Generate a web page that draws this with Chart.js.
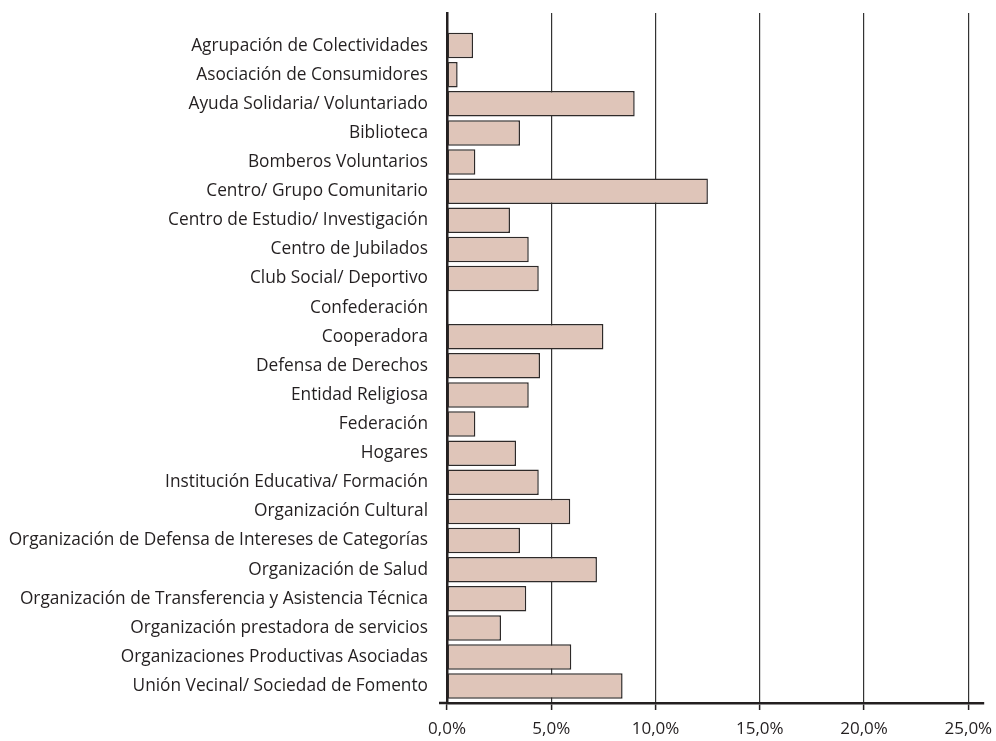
<!DOCTYPE html>
<html>
<head>
<meta charset="utf-8">
<script src="https://cdn.jsdelivr.net/npm/chart.js@4"></script>
<style>
  html, body { margin: 0; padding: 0; background: #fff; }
  #wrap { width: 996px; height: 741px; }
</style>
</head>
<body>
<div id="wrap"><canvas id="barChart" width="996" height="741"></canvas></div>
<script>
// categories, top to bottom
const categories = [
  'Agrupación de Colectividades',
  'Asociación de Consumidores',
  'Ayuda Solidaria/ Voluntariado',
  'Biblioteca',
  'Bomberos Voluntarios',
  'Centro/ Grupo Comunitario',
  'Centro de Estudio/ Investigación',
  'Centro de Jubilados',
  'Club Social/ Deportivo',
  'Confederación',
  'Cooperadora',
  'Defensa de Derechos',
  'Entidad Religiosa',
  'Federación',
  'Hogares',
  'Institución Educativa/ Formación',
  'Organización Cultural',
  'Organización de Defensa de Intereses de Categorías',
  'Organización de Salud',
  'Organización de Transferencia y Asistencia Técnica',
  'Organización prestadora de servicios',
  'Organizaciones Productivas Asociadas',
  'Unión Vecinal/ Sociedad de Fomento',
];
// percent values
const percents = [
  1.25, 0.51, 9.0, 3.5, 1.36, 12.51, 3.02, 3.92, 4.4, 0,
  7.5, 4.46, 3.92, 1.36, 3.31, 4.4, 5.91, 3.5, 7.19, 3.8,
  2.59, 5.96, 8.42,
];
const xTicks = [0, 5, 10, 15, 20, 25];

const fontFamily = '"Open Sans", sans-serif';
const ink = '#231f20';

// bars on a linear y axis so the plot can run a little above the first bar
const points = categories.map((c, i) => ({ x: percents[i], y: i }));

// little extension of the baseline to the left of the y axis
const baselinePlugin = {
  id: 'baseline',
  afterDraw(chart) {
    const ctx = chart.ctx;
    const area = chart.chartArea;
    ctx.save();
    ctx.strokeStyle = ink;
    ctx.lineWidth = 2.5;
    ctx.beginPath();
    ctx.moveTo(area.left - 8, area.bottom);
    ctx.lineTo(area.left, area.bottom);
    ctx.stroke();
    ctx.restore();
  },
};

new Chart(document.getElementById('barChart'), {
  type: 'bar',
  data: {
    datasets: [
      {
        data: points,
        backgroundColor: '#dfc5b9',
        borderColor: '#2e2a29',
        borderWidth: 1.5,
        borderSkipped: false,
        barPercentage: 0.876,
        categoryPercentage: 1,
      },
    ],
  },
  plugins: [baselinePlugin],
  options: {
    indexAxis: 'y',
    responsive: false,
    animation: false,
    layout: { padding: { top: 13, right: 12, bottom: 0, left: 0 } },
    plugins: {
      legend: { display: false },
      tooltip: { enabled: false },
    },
    scales: {
      x: {
        type: 'linear',
        min: 0,
        max: 25.75,
        afterBuildTicks: (scale) => {
          scale.ticks = xTicks.map((v) => ({ value: v }));
        },
        afterFit: (scale) => {
          scale.height = 38;
          scale.paddingLeft = 0;
          scale.paddingRight = 0;
        },
        ticks: {
          color: ink,
          font: { family: fontFamily, size: 17 },
          padding: 9,
          maxRotation: 0,
          callback: (v) => v.toFixed(1).replace('.', ',') + '%',
        },
        grid: {
          color: '#333',
          lineWidth: 1.2,
          drawTicks: true,
          tickLength: 7,
          tickColor: ink,
          tickWidth: 1.5,
        },
        border: { color: ink, width: 2.5 },
      },
      y: {
        type: 'linear',
        reverse: true,
        offset: false,
        min: -1.12,
        max: 22.58,
        afterBuildTicks: (scale) => {
          scale.ticks = categories.map((c, i) => ({ value: i }));
        },
        afterFit: (scale) => {
          scale.width = 447;
          scale.paddingTop = 0;
          scale.paddingBottom = 0;
        },
        ticks: {
          color: ink,
          font: { family: fontFamily, size: 17.3 },
          padding: 19,
          autoSkip: false,
          callback: (v) => categories[v],
        },
        grid: { display: false, drawTicks: false, offset: false },
        border: { color: ink, width: 2.5 },
      },
    },
  },
});
</script>
</body>
</html>
